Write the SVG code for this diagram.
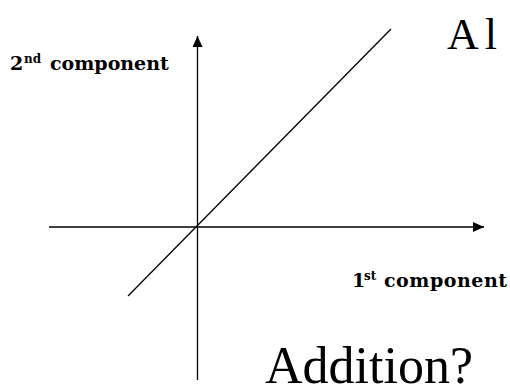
<svg xmlns="http://www.w3.org/2000/svg" width="510" height="391" viewBox="0 0 510 391">
<style>
.ax{stroke:#000;stroke-width:1.3;fill:none}
.lbl{font-family:"DejaVu Serif","Liberation Serif",serif;font-weight:bold;font-size:19px;fill:#000}
.sup{font-size:12px}
.big{font-family:"Liberation Serif","DejaVu Serif",serif;fill:#000}
</style>
<defs>
<marker id="ah" markerWidth="11" markerHeight="10" refX="11" refY="5" orient="auto" markerUnits="userSpaceOnUse">
<path d="M0,0 L11,5 L0,10 Z" fill="#000"/>
</marker>
</defs>
<g id="connectors">
<line class="ax" x1="197.5" y1="380" x2="197.5" y2="36" marker-end="url(#ah)"/>
<line class="ax" x1="49" y1="227" x2="484" y2="227" marker-end="url(#ah)"/>
<line class="ax" x1="128" y1="296" x2="391" y2="29"/>
</g>
<g id="label-2nd">
<text class="lbl" x="10" y="70">2<tspan class="sup" x="24" y="63">nd</tspan><tspan x="50" y="70">component</tspan></text>
</g>
<g id="label-1st">
<text class="lbl" x="352" y="287">1<tspan class="sup" x="364" y="280">st</tspan><tspan x="384" y="287" textLength="123">component</tspan></text>
</g>
<g id="title-top">
<text class="big" x="447" y="49" font-size="44" letter-spacing="6">Al</text>
</g>
<g id="title-bottom">
<text class="big" x="265" y="383" font-size="52">Addition?</text>
</g>
</svg>
